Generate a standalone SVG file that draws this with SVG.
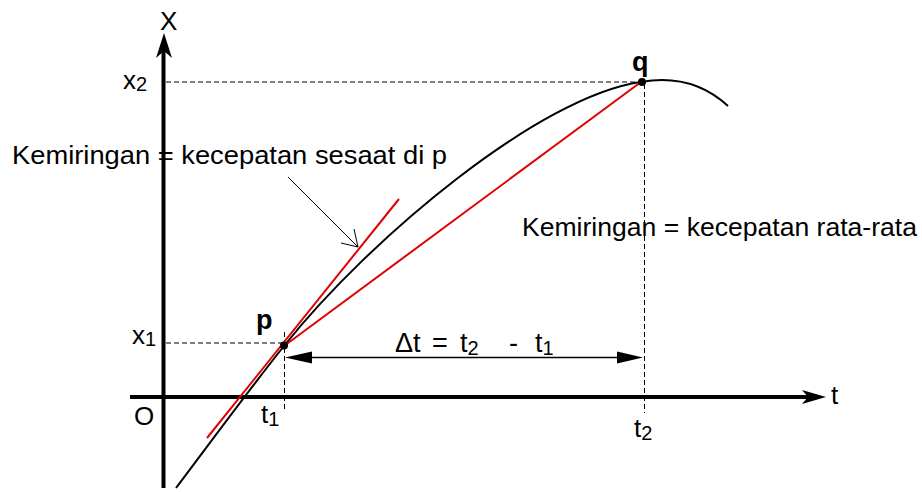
<svg xmlns="http://www.w3.org/2000/svg" width="922" height="492" viewBox="0 0 922 492">
<style>
text{font-family:"Liberation Sans",Arial,sans-serif;fill:#000}
.lbl{font-size:26px}
.long{font-size:25px}
.sub{font-size:20px}
.bold{font-size:27px;font-weight:bold}
.dash{stroke:#000;stroke-width:1;stroke-dasharray:5,3;fill:none}
.axis{stroke:#000;stroke-width:4;fill:none}
.red{stroke:#e00000;stroke-width:2;fill:none}
</style>
<rect width="922" height="492" fill="#fff"/>
<g id="guides">
<line class="dash" x1="166" y1="82" x2="641" y2="82"/>
<line class="dash" x1="166" y1="343" x2="284" y2="343"/>
<line class="dash" x1="284.5" y1="332" x2="284.5" y2="411"/>
<line class="dash" x1="644.5" y1="84" x2="644.5" y2="413"/>
</g>
<g id="axes">
<line class="axis" x1="163.5" y1="488" x2="163.5" y2="50"/>
<polygon points="164,33 172,58 164,51 156,58" fill="#000"/>
<line class="axis" x1="130" y1="397" x2="810" y2="397"/>
<polygon points="826,397 802,390 808,397 802,404" fill="#000"/>
<text class="lbl" x="160" y="30">X</text>
<text class="lbl" x="831" y="404">t</text>
<text class="lbl" x="134" y="425">O</text>
</g>
<g id="curve">
<path d="M176,488 C210,443 248,391 284,346 C370,238 540,96 641,82 C675,76 705,85 728,106" stroke="#000" stroke-width="2" fill="none"/>
</g>
<g id="connectors">
<line class="red" x1="207" y1="438" x2="399" y2="199"/>
<line class="red" x1="284" y1="346" x2="641" y2="82"/>
<line x1="288" y1="177" x2="358" y2="247" stroke="#000" stroke-width="1"/>
<polyline points="341,243 358,247 354,229" stroke="#000" stroke-width="1" fill="none"/>
<line x1="300" y1="357.5" x2="630" y2="357.5" stroke="#000" stroke-width="1.5"/>
<polygon points="285,357.5 312,351.5 312,363.5" fill="#000"/>
<polygon points="643,357.5 617,351.5 617,363.5" fill="#000"/>
</g>
<g id="p">
<circle cx="284" cy="345.5" r="4" fill="#000"/>
<text class="bold" x="256" y="329">p</text>
</g>
<g id="q">
<circle cx="642" cy="82" r="4" fill="#000"/>
<text class="bold" x="632" y="71">q</text>
</g>
<g id="labels">
<text class="lbl" x="123" y="89">x<tspan class="sub" dy="2">2</tspan></text>
<text class="lbl" x="132" y="344">x<tspan class="sub" dy="2">1</tspan></text>
<text class="lbl" x="261" y="423">t<tspan class="sub" dy="3">1</tspan></text>
<text class="lbl" x="634" y="437">t<tspan class="sub" dy="3">2</tspan></text>
<text class="lbl" x="395" y="352" style="font-size:27px">Δt<tspan x="432">=</tspan><tspan x="460">t</tspan><tspan class="sub" dy="3">2</tspan><tspan x="509" dy="-3">-</tspan><tspan x="535">t</tspan><tspan class="sub" dy="3">1</tspan></text>
<text class="long" x="12" y="164" textLength="435" lengthAdjust="spacingAndGlyphs">Kemiringan = kecepatan sesaat di p</text>
<text class="long" x="522" y="236" textLength="395" lengthAdjust="spacingAndGlyphs">Kemiringan = kecepatan rata-rata</text>
</g>
</svg>
